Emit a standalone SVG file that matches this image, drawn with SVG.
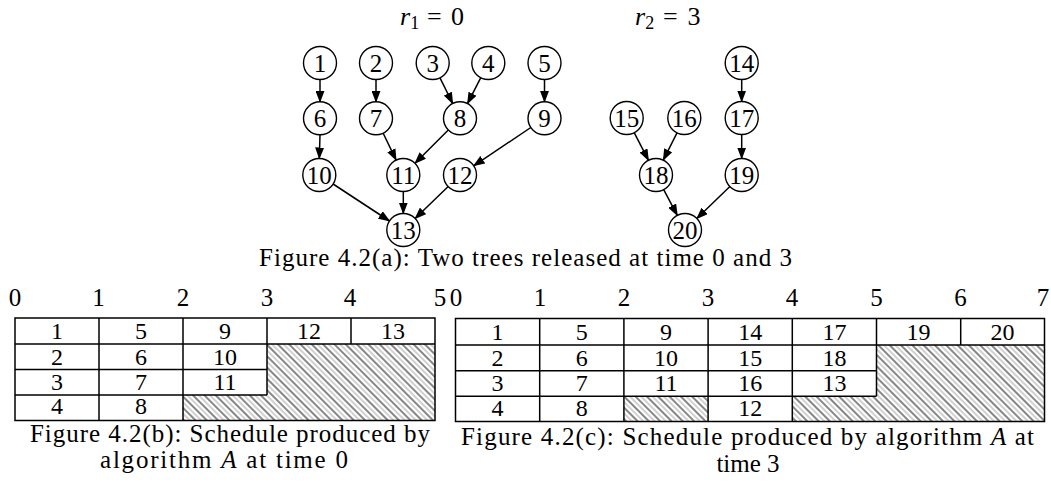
<svg xmlns="http://www.w3.org/2000/svg" width="1051" height="482" viewBox="0 0 1051 482">
  <style>
    text { font-family: "Liberation Serif", "Times New Roman", serif; fill: #000; }
    .node circle { fill: #fff; stroke: #000; stroke-width: 1.4; }
    .node text { font-size: 25px; text-anchor: middle; }
    .edges line { stroke: #000; stroke-width: 1.5; marker-end: url(#arrow); }
    .grid { fill: none; stroke: #000; stroke-width: 1.5; }
    .cell { font-size: 24px; text-anchor: middle; }
    .tick { font-size: 25px; text-anchor: middle; }
    .cap { font-size: 25px; }
    .it { font-style: italic; }
    .hatch { fill: url(#diag); stroke: none; }
  </style>
  <defs>
    <marker id="arrow" markerUnits="userSpaceOnUse" markerWidth="12" markerHeight="9" refX="11" refY="4.5" orient="auto">
      <path d="M0,0 L12,4.5 L0,9 z" fill="#000"/>
    </marker>
    <!-- back-slash hatching: dark and light strokes alternating -->
    <pattern id="diag" patternUnits="userSpaceOnUse" width="8" height="8" patternTransform="rotate(-45)">
      <line x1="1" y1="-1" x2="1" y2="9" stroke="#222" stroke-width="1.1"/>
      <line x1="5" y1="-1" x2="5" y2="9" stroke="#999" stroke-width="0.9"/>
    </pattern>
  </defs>

  <!-- release times -->
  <text x="400" y="25" font-size="26"><tspan class="it">r</tspan><tspan font-size="18" dy="4">1</tspan><tspan dy="-4" x="427">=</tspan><tspan x="451">0</tspan></text>
  <text x="635" y="25" font-size="26"><tspan class="it">r</tspan><tspan font-size="18" dy="4">2</tspan><tspan dy="-4" x="663">=</tspan><tspan x="687.5">3</tspan></text>

  <!-- precedence arcs -->
  <g id="edges" class="edges">
    <line x1="320" y1="79.5" x2="320" y2="101.8"/>
    <line x1="320" y1="134.8" x2="319.3" y2="158.5"/>
    <line x1="376" y1="79.5" x2="376" y2="101.8"/>
    <line x1="383.2" y1="133.2" x2="396.1" y2="160.1"/>
    <line x1="440" y1="77.8" x2="452.7" y2="103.5"/>
    <line x1="480.8" y1="77.7" x2="467.5" y2="103.6"/>
    <line x1="448.3" y1="130" x2="415" y2="163.3"/>
    <line x1="544.5" y1="79.5" x2="544.5" y2="101.8"/>
    <line x1="530.8" y1="127.5" x2="473.7" y2="165.8"/>
    <line x1="333.1" y1="184" x2="389.5" y2="221"/>
    <line x1="403.3" y1="191.5" x2="403.3" y2="213.5"/>
    <line x1="448.2" y1="186.5" x2="415.1" y2="218.5"/>
    <line x1="741.7" y1="79.5" x2="741.7" y2="101.5"/>
    <line x1="741.7" y1="134.5" x2="741.7" y2="158.5"/>
    <line x1="634.2" y1="132.7" x2="648.5" y2="160.3"/>
    <line x1="677" y1="132.8" x2="663.3" y2="160.2"/>
    <line x1="663.7" y1="189.6" x2="677.3" y2="215.4"/>
    <line x1="729.9" y1="186.5" x2="696.8" y2="218.5"/>
  </g>

  <!-- task nodes -->
  <g id="n1" class="node"><circle cx="320" cy="63" r="16.5"/><text x="320" y="71.5">1</text></g>
  <g id="n2" class="node"><circle cx="376" cy="63" r="16.5"/><text x="376" y="71.5">2</text></g>
  <g id="n3" class="node"><circle cx="432.7" cy="63" r="16.5"/><text x="432.7" y="71.5">3</text></g>
  <g id="n4" class="node"><circle cx="488.3" cy="63" r="16.5"/><text x="488.3" y="71.5">4</text></g>
  <g id="n5" class="node"><circle cx="544.5" cy="63" r="16.5"/><text x="544.5" y="71.5">5</text></g>
  <g id="n6" class="node"><circle cx="320" cy="118.3" r="16.5"/><text x="320" y="126.8">6</text></g>
  <g id="n7" class="node"><circle cx="376" cy="118.3" r="16.5"/><text x="376" y="126.8">7</text></g>
  <g id="n8" class="node"><circle cx="460" cy="118.3" r="16.5"/><text x="460" y="126.8">8</text></g>
  <g id="n9" class="node"><circle cx="544.5" cy="118.3" r="16.5"/><text x="544.5" y="126.8">9</text></g>
  <g id="n10" class="node"><circle cx="319.3" cy="175" r="16.5"/><text x="319.3" y="183.5">10</text></g>
  <g id="n11" class="node"><circle cx="403.3" cy="175" r="16.5"/><text x="403.3" y="183.5">11</text></g>
  <g id="n12" class="node"><circle cx="460" cy="175" r="16.5"/><text x="460" y="183.5">12</text></g>
  <g id="n13" class="node"><circle cx="403.3" cy="230" r="16.5"/><text x="403.3" y="238.5">13</text></g>
  <g id="n14" class="node"><circle cx="741.7" cy="63" r="16.5"/><text x="741.7" y="71.5">14</text></g>
  <g id="n15" class="node"><circle cx="626.7" cy="118" r="16.5"/><text x="626.7" y="126.5">15</text></g>
  <g id="n16" class="node"><circle cx="684.3" cy="118" r="16.5"/><text x="684.3" y="126.5">16</text></g>
  <g id="n17" class="node"><circle cx="741.7" cy="118" r="16.5"/><text x="741.7" y="126.5">17</text></g>
  <g id="n18" class="node"><circle cx="656" cy="175" r="16.5"/><text x="656" y="183.5">18</text></g>
  <g id="n19" class="node"><circle cx="741.7" cy="175" r="16.5"/><text x="741.7" y="183.5">19</text></g>
  <g id="n20" class="node"><circle cx="685" cy="230" r="16.5"/><text x="685" y="238.5">20</text></g>

  <text class="cap" x="259" y="266" textLength="533" lengthAdjust="spacing">Figure 4.2(a): Two trees released at time 0 and 3</text>

  <!-- schedule at time 0 -->
  <g id="schedule-b">
    <g class="tick">
      <text x="15" y="306">0</text><text x="98.5" y="306">1</text><text x="183" y="306">2</text>
      <text x="267" y="306">3</text><text x="350" y="306">4</text><text x="440" y="306">5</text>
    </g>
    <path class="hatch" d="M267,344 H435 V420.5 H183 V395 H267 Z"/>
    <path class="grid" d="M15,318 H435 V420.5 H15 Z M15,344 H435 M15,369.5 H267 M15,395 H267 M99,318 V420.5 M183,318 V420.5 M267,318 V395 M351,318 V344"/>
    <g class="cell">
      <text x="57" y="339">1</text><text x="141" y="339">5</text><text x="225" y="339">9</text><text x="309" y="339">12</text><text x="393" y="339">13</text>
      <text x="57" y="364.5">2</text><text x="141" y="364.5">6</text><text x="225" y="364.5">10</text>
      <text x="57" y="390">3</text><text x="141" y="390">7</text><text x="225" y="390">11</text>
      <text x="57" y="414">4</text><text x="141" y="414">8</text>
    </g>
    <text class="cap" x="30" y="442" textLength="400" lengthAdjust="spacing">Figure 4.2(b): Schedule produced by</text>
    <text class="cap" x="100" y="468" textLength="248" lengthAdjust="spacing">algorithm <tspan class="it">A</tspan> at time 0</text>
  </g>

  <!-- schedule at time 3 -->
  <g id="schedule-c">
    <g class="tick">
      <text x="456" y="306">0</text><text x="540" y="306">1</text><text x="624" y="306">2</text><text x="708" y="306">3</text>
      <text x="792" y="306">4</text><text x="876.5" y="306">5</text><text x="960.5" y="306">6</text><text x="1043" y="306">7</text>
    </g>
    <path class="hatch" d="M876.5,345 H1044.5 V421.5 H792.3 V396.3 H876.5 Z M623.9,396.3 H708.1 V421.5 H623.9 Z"/>
    <path class="grid" d="M455.5,318.5 H1044.5 V421.5 H455.5 Z M455.5,345 H1044.5 M455.5,370.8 H876.5 M455.5,396.3 H876.5 M539.7,318.5 V421.5 M623.9,318.5 V421.5 M708.1,318.5 V421.5 M792.3,318.5 V421.5 M876.5,318.5 V396.3 M960.7,318.5 V345"/>
    <g class="cell">
      <text x="497.6" y="339.5">1</text><text x="581.8" y="339.5">5</text><text x="666" y="339.5">9</text><text x="750.2" y="339.5">14</text><text x="834.4" y="339.5">17</text><text x="918.6" y="339.5">19</text><text x="1002.6" y="339.5">20</text>
      <text x="497.6" y="365.5">2</text><text x="581.8" y="365.5">6</text><text x="666" y="365.5">10</text><text x="750.2" y="365.5">15</text><text x="834.4" y="365.5">18</text>
      <text x="497.6" y="391">3</text><text x="581.8" y="391">7</text><text x="666" y="391">11</text><text x="750.2" y="391">16</text><text x="834.4" y="391">13</text>
      <text x="497.6" y="415.5">4</text><text x="581.8" y="415.5">8</text><text x="750.2" y="415.5">12</text>
    </g>
    <text class="cap" x="461" y="445" textLength="573" lengthAdjust="spacing">Figure 4.2(c): Schedule produced by algorithm <tspan class="it">A</tspan> at</text>
    <text class="cap" x="748" y="472" text-anchor="middle">time 3</text>
  </g>
</svg>
